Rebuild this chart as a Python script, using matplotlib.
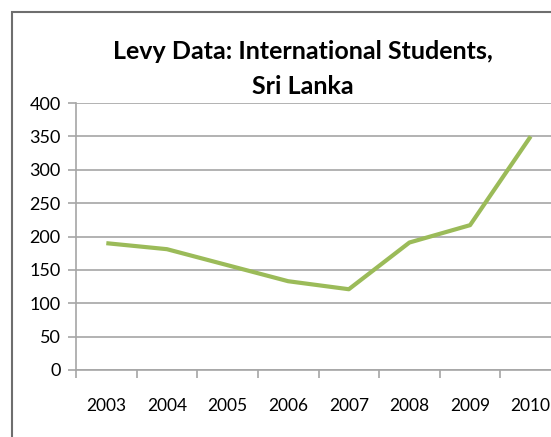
import matplotlib.pyplot as plt
from matplotlib.patches import Rectangle

# данные с графика
years = ['2003', '2004', '2005', '2006', '2007', '2008', '2009', '2010']
students = [190, 181, 157, 133, 121, 191, 217, 350]

plt.rcParams['font.family'] = ['Lato', 'DejaVu Sans']

fig = plt.figure(figsize=(5.51, 4.37), dpi=100)
ax = fig.add_axes([76 / 551, 67 / 437, 485 / 551, 267 / 437])

# рамка вокруг всей диаграммы (обрезана справа и снизу)
fig.patches.append(Rectangle((12 / 551, -0.1), 1.0, (437 - 12) / 437 + 0.1,
                             transform=fig.transFigure, fill=False,
                             edgecolor='#6e6e6e', linewidth=1.5, clip_on=False))

x = list(range(len(years)))
ax.plot(x, students, color='#9bbb59', linewidth=3.0, solid_capstyle='butt', zorder=3)

ax.set_xlim(-0.5, len(years) - 0.5)
ax.set_ylim(0, 400)
ax.set_yticks(range(0, 401, 50))
ax.yaxis.grid(True, color='#a6a6a6', linewidth=1.2)
ax.set_axisbelow(True)

# деления между категориями, подписи по центру
ax.set_xticks([i - 0.5 for i in range(len(years) + 1)])
ax.set_xticklabels([])
ax.set_xticks(x, minor=True)
ax.set_xticklabels(years, minor=True)
ax.tick_params(axis='x', which='major', length=6, color='#a6a6a6', width=1.2)
ax.tick_params(axis='x', which='minor', length=0, pad=20, labelsize=12.5)
ax.tick_params(axis='y', length=6, color='#a6a6a6', width=1.2, pad=5, labelsize=13)

for side in ['top', 'right']:
    ax.spines[side].set_visible(False)
for side in ['left', 'bottom']:
    ax.spines[side].set_color('#a6a6a6')
    ax.spines[side].set_linewidth(1.2)

fig.text(303 / 551, 1 - 69 / 437, 'Levy Data: International Students,\nSri Lanka',
         ha='center', va='center', fontsize=18, fontweight='bold', linespacing=1.6)

fig.savefig('out.png', dpi=100)
